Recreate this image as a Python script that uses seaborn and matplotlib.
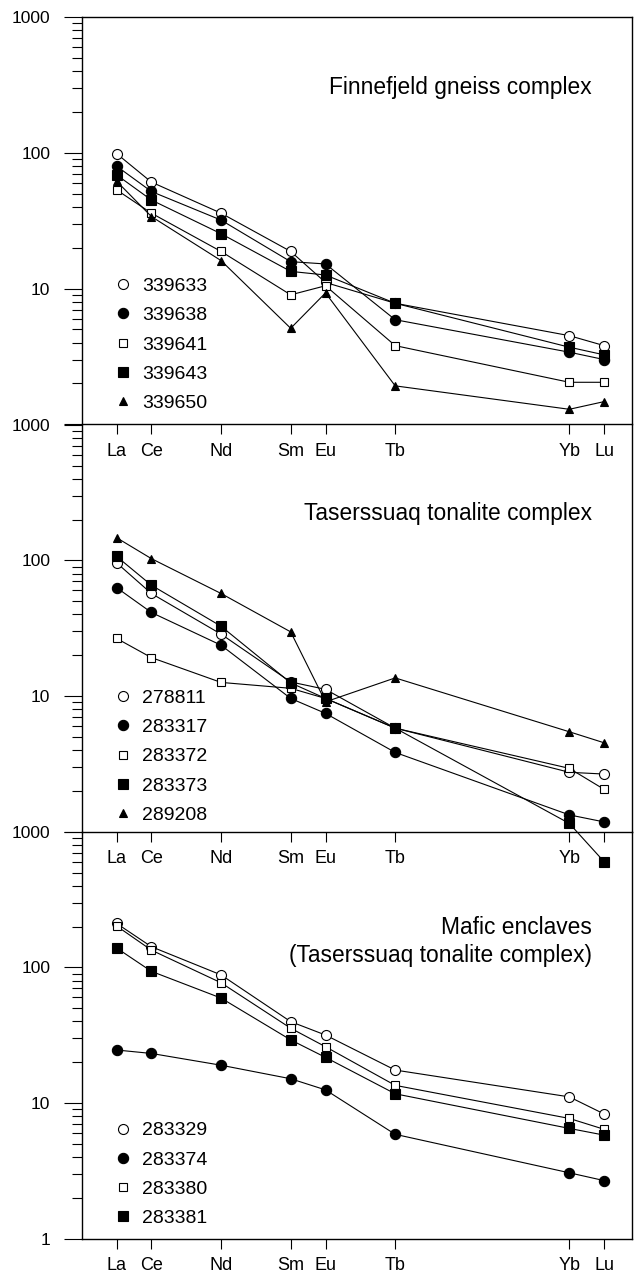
import numpy as np
import pandas as pd
import matplotlib
matplotlib.use("Agg")
import matplotlib.pyplot as plt
from matplotlib.lines import Line2D
from matplotlib.ticker import FixedLocator, FixedFormatter, LogLocator, NullFormatter
import seaborn as sns

sns.set_style("ticks")
plt.rcParams['font.family'] = ['Liberation Sans', 'DejaVu Sans']
for key in ['text.color', 'axes.labelcolor', 'xtick.color', 'ytick.color', 'axes.edgecolor']:
    plt.rcParams[key] = 'black'

# ---------------- data ----------------
elements = ['La', 'Ce', 'Nd', 'Sm', 'Eu', 'Tb', 'Yb', 'Lu']
atomic_numbers = [57, 58, 60, 62, 63, 65, 70, 71]

# Panel 1: Finnefjeld gneiss complex
p1_title = "Finnefjeld gneiss complex"
p1_samples = ['339633', '339638', '339641', '339643', '339650']
s339633 = [99, 61, 36, 18.8, 11.1, 7.8, 4.5, 3.8]
s339638 = [80, 52, 32, 15.8, 15.2, 5.9, 3.4, 3.0]
s339641 = [53.5, 36, 18.8, 9.0, 10.5, 3.8, 2.04, 2.04]
s339643 = [69, 45, 25.4, 13.4, 12.6, 7.8, 3.7, 3.25]
s339650 = [62, 34, 16.1, 5.1, 9.3, 1.92, 1.29, 1.47]

# Panel 2: Taserssuaq tonalite complex
p2_title = "Taserssuaq tonalite complex"
p2_samples = ['278811', '283317', '283372', '283373', '289208']
s278811 = [96, 57, 28.6, 12.7, 11.2, 5.8, 2.74, 2.66]
s283317 = [63, 41.3, 23.7, 9.6, 7.45, 3.84, 1.33, 1.18]
s283372 = [26.6, 19.2, 12.6, 11.4, 9.6, 5.8, 2.93, 2.05]
s283373 = [107, 65.6, 32.7, 12.5, 9.6, 5.8, 1.15, 0.60]
s289208 = [147, 103, 57, 29.7, 9.06, 13.6, 5.45, 4.52]

# Panel 3: Mafic enclaves
p3_title = "Mafic enclaves\n(Taserssuaq tonalite complex)"
p3_samples = ['283329', '283374', '283380', '283381']
s283329 = [211, 142, 88, 39.8, 31.7, 17.5, 11.1, 8.3]
s283374 = [24.6, 23.2, 19.0, 15.1, 12.5, 5.88, 3.06, 2.68]
s283380 = [202, 134, 77, 35.6, 26, 13.5, 7.7, 6.4]
s283381 = [139, 93.5, 59.4, 29.2, 21.7, 11.7, 6.5, 5.8]

y_tick_values = [1, 10, 100, 1000]

# ---------------- styles ----------------
open_circle = dict(marker='o', ms=7.2, mfc='white')
filled_circle = dict(marker='o', ms=7.4, mfc='black')
open_square = dict(marker='s', ms=5.8, mfc='white')
filled_square = dict(marker='s', ms=7.8, mfc='black')
filled_triangle = dict(marker='^', ms=6.2, mfc='black')

panels = [
    (p1_title, 0.811, 0.030, elements,
     list(zip(p1_samples, [s339633, s339638, s339641, s339643, s339650],
              [open_circle, filled_circle, open_square, filled_square, filled_triangle]))),
    (p2_title, 0.766, 0.019, elements[:-1] + [''],
     list(zip(p2_samples, [s278811, s283317, s283372, s283373, s289208],
              [open_circle, filled_circle, open_square, filled_square, filled_triangle]))),
    (p3_title, 0.6806, 0.028, elements,
     list(zip(p3_samples, [s283329, s283374, s283380, s283381],
              [open_circle, filled_circle, open_square, filled_square]))),
]

fig = plt.figure(figsize=(6.39, 12.75), dpi=100)
fig.patch.set_facecolor('white')

left, width, height = 0.12786, 0.8607, 0.31922
bottoms = [0.66722, 0.34769, 0.02847]

for i, (title, ty, leg_y, xlabels, series) in enumerate(panels):
    ax = fig.add_axes([left, bottoms[i], width, height])
    ax.set_facecolor('none')
    ax.set_yscale('log')
    for name, vals, st in series:
        df = pd.DataFrame({'x': atomic_numbers, 'y': vals})
        sns.lineplot(data=df, x='x', y='y', ax=ax, color='black', lw=0.8,
                     marker=st['marker'], ms=st['ms'], mfc=st['mfc'], mec='black',
                     mew=0.8, clip_on=False, zorder=5 + i, legend=False)
    ax.set_xlim(56.0, 71.79)
    ax.set_ylim(1, 1000)
    ax.set_xlabel('')
    ax.set_ylabel('')

    ax.set_xticks(atomic_numbers)
    ax.set_xticklabels(xlabels, fontsize=13)
    ax.tick_params(axis='x', direction='out', length=7.5, width=0.8, pad=5.8, colors='black')

    ax.yaxis.set_major_locator(FixedLocator(y_tick_values))
    labels = ['1' if i == 2 else '', '10', '100', '1000']
    ax.yaxis.set_major_formatter(FixedFormatter(labels))
    ax.yaxis.set_minor_locator(LogLocator(base=10, subs=np.arange(2, 10)))
    ax.yaxis.set_minor_formatter(NullFormatter())
    ax.tick_params(axis='y', which='major', direction='out', length=13, width=0.8,
                   pad=9.5, labelsize=12.5, colors='black')
    ax.tick_params(axis='y', which='minor', direction='out', length=7.2, width=0.8,
                   colors='black')

    for side in ['left', 'right', 'bottom', 'top']:
        ax.spines[side].set_color('black')
        ax.spines[side].set_linewidth(1.0)
    if i > 0:
        ax.spines['top'].set_visible(False)

    ax.text(0.9273, ty, title, transform=ax.transAxes, ha='right', va='baseline',
            fontsize=16.4, multialignment='right', linespacing=1.25, color='black')

    handles = [Line2D([], [], linestyle='none', color='black', marker=st['marker'],
                      markersize=st['ms'], markerfacecolor=st['mfc'],
                      markeredgecolor='black', markeredgewidth=0.8)
               for _, _, st in series]
    names = [n for n, _, _ in series]
    leg = ax.legend(handles, names, loc='lower left', bbox_to_anchor=(0.0569, leg_y),
                    frameon=False, fontsize=14, handlelength=1.0, handletextpad=0.5,
                    labelspacing=0.6, borderpad=0, borderaxespad=0)
    for t in leg.get_texts():
        t.set_color('black')

fig.savefig('out.png', dpi=100, facecolor='white')
